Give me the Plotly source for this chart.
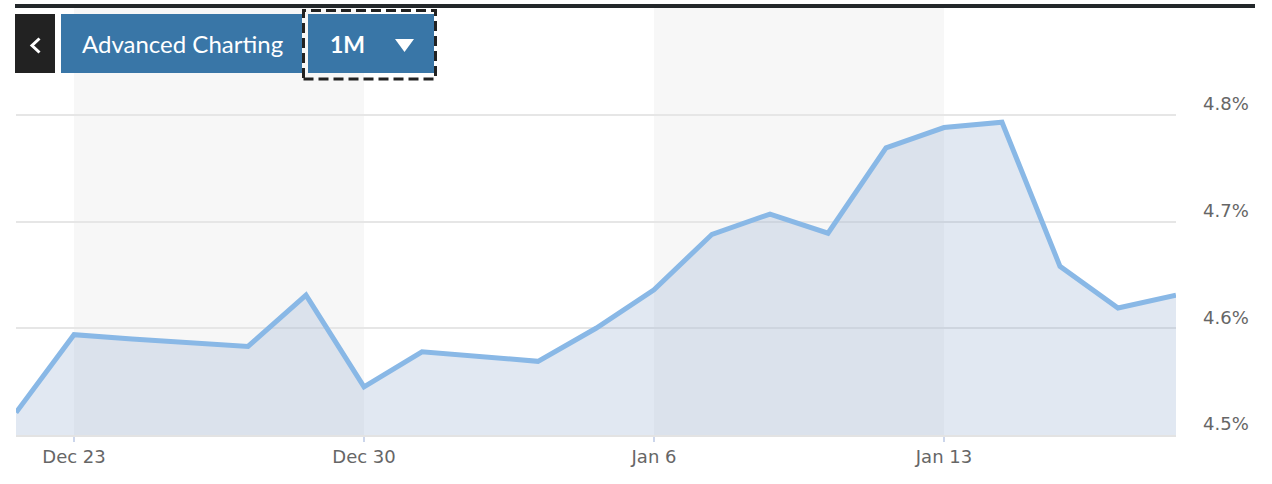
import plotly.graph_objects as go

dates = ["2024-12-20", "2024-12-23", "2024-12-24", "2024-12-26", "2024-12-27",
         "2024-12-30", "2024-12-31", "2025-01-02", "2025-01-03", "2025-01-06",
         "2025-01-07", "2025-01-08", "2025-01-09", "2025-01-10", "2025-01-13",
         "2025-01-14", "2025-01-15", "2025-01-16", "2025-01-17"]
yields = [4.521, 4.594, 4.590, 4.583, 4.631,
          4.545, 4.578, 4.569, 4.600, 4.636,
          4.688, 4.707, 4.689, 4.769, 4.788,
          4.793, 4.658, 4.619, 4.631]
tick_dates = ["2024-12-23", "2024-12-30", "2025-01-06", "2025-01-13"]
tick_labels = ["Dec 23", "Dec 30", "Jan 6", "Jan 13"]
band_weeks = [("2024-12-23", "2024-12-30"), ("2025-01-06", "2025-01-13")]
y_ticks = [4.5, 4.6, 4.7, 4.8]
y_tick_labels = ["4.5%", "4.6%", "4.7%", "4.8%"]
x_range = ["2024-12-20", "2025-01-17"]
y_range = [4.5, 4.9]

W, H = 1272, 484
L, R, T, B = 16, 96, 8, 49
PW, PH = W - L - R, H - T - B


def px(X):
    return (X - L) / PW


def py(Y):
    return (H - B - Y) / PH


fig = go.Figure()
fig.add_trace(go.Scatter(
    x=dates, y=yields, mode="lines",
    line=dict(color="#89b8e6", width=5),
    fill="tozeroy", fillcolor="rgba(135,165,205,0.25)",
    hoverinfo="skip",
))

shapes = []
for a, b in band_weeks:
    shapes.append(dict(type="rect", xref="x", yref="paper", x0=a, x1=b, y0=0, y1=1,
                       fillcolor="#f7f7f7", line=dict(width=0), layer="below"))
# top black rule
shapes.append(dict(type="rect", xref="paper", yref="paper", x0=px(15), x1=px(1255),
                   y0=py(8), y1=py(4), fillcolor="#23272a", line=dict(width=0)))
# back button
shapes.append(dict(type="rect", xref="paper", yref="paper", x0=px(15), x1=px(55),
                   y0=py(73), y1=py(14), fillcolor="#222222", line=dict(width=0)))
# chevron
shapes.append(dict(type="path", xref="paper", yref="paper",
                   path=f"M {px(39.5)} {py(38.5)} L {px(32)} {py(45.5)} L {px(39.5)} {py(52.5)}",
                   line=dict(color="#ffffff", width=3)))
# Advanced Charting button
shapes.append(dict(type="rect", xref="paper", yref="paper", x0=px(61), x1=px(302),
                   y0=py(73), y1=py(14), fillcolor="#3976a7", line=dict(width=0)))
# 1M button
shapes.append(dict(type="rect", xref="paper", yref="paper", x0=px(308), x1=px(434),
                   y0=py(73), y1=py(14), fillcolor="#3976a7", line=dict(width=0)))
# dashed focus border
shapes.append(dict(type="rect", xref="paper", yref="paper", x0=px(303.5), x1=px(435.5),
                   y0=py(79), y1=py(10.5), fillcolor="rgba(0,0,0,0)",
                   line=dict(color="#222222", width=3, dash="10px,5px")))
# dropdown triangle
tx0, tx1, ty0, ty1 = px(395), px(414), py(39), py(52)
shapes.append(dict(type="path", xref="paper", yref="paper",
                   path=f"M {tx0} {ty0} L {tx1} {ty0} L {(tx0+tx1)/2} {ty1} Z",
                   fillcolor="#ffffff", line=dict(width=0)))

annotations = [
    dict(text="Advanced Charting", x=px(182), y=py(44), xref="paper", yref="paper", showarrow=False,
         font=dict(family="Lato", size=24, color="#ffffff"), xanchor="center", yanchor="middle"),
    dict(text="<b>1M</b>", x=px(328), y=py(44), xref="paper", yref="paper", showarrow=False,
         font=dict(family="Lato", size=23, color="#ffffff"), xanchor="left", yanchor="middle"),
]

fig.update_layout(
    width=W, height=H,
    margin=dict(l=L, r=R, t=T, b=B),
    paper_bgcolor="#ffffff", plot_bgcolor="rgba(0,0,0,0)",
    showlegend=False,
    shapes=shapes, annotations=annotations,
    xaxis=dict(
        type="date", range=x_range,
        rangebreaks=[dict(bounds=["sat", "mon"])],
        tickvals=tick_dates, ticktext=tick_labels,
        showgrid=False, zeroline=False,
        showline=True, linecolor="#e3e3e3", linewidth=1.5,
        ticks="outside", ticklen=5, tickcolor="#ccd6eb", tickwidth=1.5,
        tickfont=dict(family="DejaVu Sans", size=18, color="#666666"),
    ),
    yaxis=dict(
        side="right", range=y_range,
        tickvals=y_ticks, ticktext=y_tick_labels,
        showgrid=True, gridcolor="#e6e6e6", gridwidth=1.5,
        zeroline=False, showline=False,
        ticks="", ticklabelstandoff=26, ticklabelshift=-11,
        tickfont=dict(family="DejaVu Sans", size=18, color="#666666"),
    ),
)

fig.write_html("out.html", config={"displayModeBar": False},
               post_script="document.body.style.margin='0';")
